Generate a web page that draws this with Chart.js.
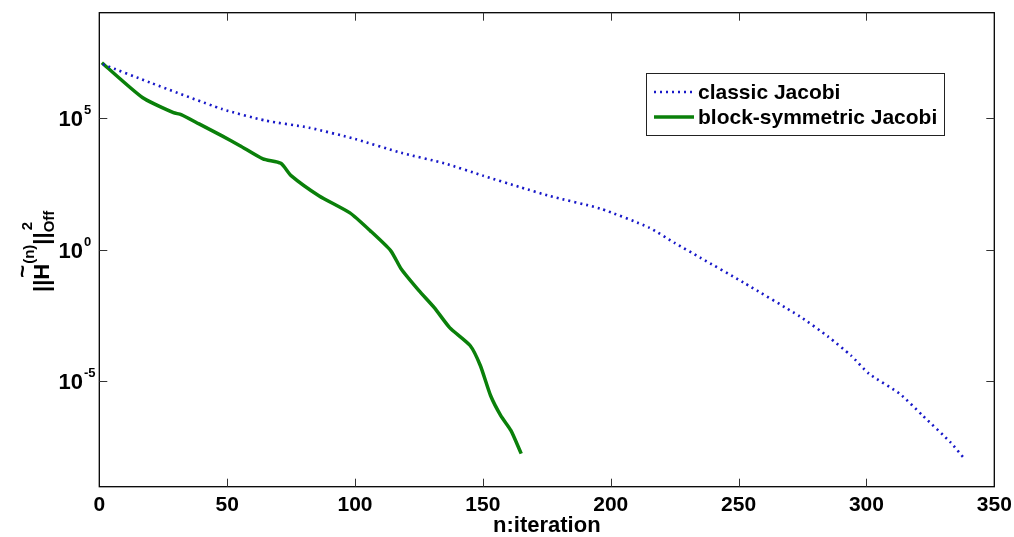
<!DOCTYPE html>
<html>
<head>
<meta charset="utf-8">
<script src="https://cdn.jsdelivr.net/npm/chart.js@4.4.1/dist/chart.umd.min.js"></script>
<style>
html,body{margin:0;padding:0;background:#fff;}
#wrap{position:relative;width:1014px;height:537px;}
</style>
</head>
<body>
<div id="wrap"><canvas id="c" width="1014" height="537"></canvas></div>
<script>
// Data (iteration, value)
const classicN   = [1.4, 20, 48, 65, 82, 100, 118, 135, 150, 165, 176, 196, 215, 225, 235, 252, 274, 285, 294, 301, 313, 322, 333, 338];
const classicVal = [1.1e7, 2.2e6, 2.2e5, 8.0e4, 4.3e4, 1.6e4, 4.8e3, 1.9e3, 6.5e2, 2.3e2, 1.1e2, 3.6e1, 6.9e0, 1.8e0, 5.0e-1, 5.6e-2, 2.9e-3, 5.0e-4, 9.5e-5, 1.95e-5, 3.4e-6, 5.0e-7, 4.7e-8, 1.26e-8];
const blockN     = [1, 17, 29, 32, 39, 48, 55, 64, 71, 75, 86, 98, 106, 114, 118, 125, 131, 137, 145, 149, 153, 157, 161, 165];
const blockVal   = [1.26e7, 5.9e5, 1.6e5, 1.35e5, 6.0e4, 2.1e4, 8.9e3, 2.8e3, 1.9e3, 6.5e2, 1.1e2, 2.5e1, 5.2e0, 9.1e-1, 1.9e-1, 2.8e-2, 6.3e-3, 1.1e-3, 2.3e-4, 4.0e-5, 2.9e-6, 5.0e-7, 1.35e-7, 1.8e-8];
const xTicks = [0, 50, 100, 150, 200, 250, 300, 350];
const yTicks = [1e-5, 1e0, 1e5];
const yTickExp = ['-5', '0', '5'];
const seriesNames = ['classic Jacobi', 'block-symmetric Jacobi'];

const toPts = (xs, ys) => xs.map((x, i) => ({x: x, y: ys[i]}));
const BLUE = '#1818c8', GREEN = '#0a800a';
const FONT = '"Liberation Sans", Arial, sans-serif';

const framePlugin = {
  id: 'frame',
  afterDatasetsDraw(chart) {
    const {ctx, chartArea: a, scales: {x, y}} = chart;
    ctx.save();
    ctx.strokeStyle = '#000';
    ctx.lineWidth = 1.3;
    ctx.strokeRect(a.left, a.top, a.right - a.left, a.bottom - a.top);
    ctx.lineWidth = 1;
    ctx.strokeStyle = '#333';
    const tl = 8;
    ctx.beginPath();
    xTicks.forEach(v => {
      const px = Math.round(x.getPixelForValue(v)) + 0.5;
      if (v !== 0 && v !== 350) {
        ctx.moveTo(px, a.bottom); ctx.lineTo(px, a.bottom - tl);
        ctx.moveTo(px, a.top); ctx.lineTo(px, a.top + tl);
      }
    });
    yTicks.forEach(v => {
      const py = Math.round(y.getPixelForValue(v)) + 0.5;
      ctx.moveTo(a.left, py); ctx.lineTo(a.left + tl, py);
      ctx.moveTo(a.right, py); ctx.lineTo(a.right - tl, py);
    });
    ctx.stroke();

    // y tick labels: 10 with raised exponent, placed by the y scale
    ctx.fillStyle = '#000';
    ctx.textBaseline = 'alphabetic';
    yTicks.forEach((v, i) => {
      const py = y.getPixelForValue(v);
      ctx.font = 'bold 22px ' + FONT;
      ctx.textAlign = 'right';
      ctx.fillText('10', 83, py + 8);
      ctx.font = 'bold 13px ' + FONT;
      ctx.textAlign = 'left';
      ctx.fillText(yTickExp[i], 84, py - 4);
    });

    // legend
    const lx = 646, ly = 73, lw = 298, lh = 62;
    ctx.fillStyle = '#fff';
    ctx.fillRect(lx, ly, lw, lh);
    ctx.strokeStyle = '#222';
    ctx.lineWidth = 1;
    ctx.strokeRect(lx + 0.5, ly + 0.5, lw, lh);
    const rows = [92, 117];
    chart.data.datasets.forEach((ds, i) => {
      ctx.save();
      ctx.strokeStyle = ds.borderColor;
      ctx.lineWidth = ds.borderWidth;
      ctx.setLineDash(ds.borderDash || []);
      ctx.beginPath();
      ctx.moveTo(654, rows[i]); ctx.lineTo(694, rows[i]);
      ctx.stroke();
      ctx.restore();
      ctx.fillStyle = '#000';
      ctx.font = 'bold 21px ' + FONT;
      ctx.textBaseline = 'middle';
      ctx.textAlign = 'left';
      ctx.fillText(ds.label, 698, rows[i] + 1);
    });

    // y-axis title: ||H~^(n)||^2_Off, rotated
    ctx.save();
    ctx.translate(40, 292);
    ctx.rotate(-Math.PI / 2);
    ctx.fillStyle = '#000';
    ctx.textBaseline = 'alphabetic';
    ctx.textAlign = 'left';
    let cx = 0;
    ctx.font = 'bold 22px ' + FONT;
    ctx.fillText('||', cx, 9); cx += ctx.measureText('||').width;
    const hw = ctx.measureText('H').width;
    ctx.fillText('H', cx, 9);
    ctx.fillText('~', cx + 2, -10);
    cx += hw;
    ctx.font = 'bold 15px ' + FONT;
    ctx.fillText('(n)', cx, -6); cx += ctx.measureText('(n)').width;
    ctx.font = 'bold 22px ' + FONT;
    ctx.fillText('||', cx, 9); cx += ctx.measureText('||').width;
    ctx.font = 'bold 15px ' + FONT;
    ctx.fillText('2', cx + 2, -8);
    ctx.fillText('Off', cx, 14);
    ctx.restore();
    ctx.restore();
  }
};

new Chart(document.getElementById('c'), {
  type: 'line',
  data: {
    datasets: [
      {label: seriesNames[0], data: toPts(classicN, classicVal), borderColor: BLUE, borderWidth: 2.6, borderDash: [2, 4], pointRadius: 0, fill: false, tension: 0.2},
      {label: seriesNames[1], data: toPts(blockN, blockVal), borderColor: GREEN, borderWidth: 3.5, pointRadius: 0, fill: false, tension: 0.2}
    ]
  },
  plugins: [framePlugin],
  options: {
    responsive: false,
    animation: false,
    layout: {padding: {left: 0, right: 19.7, top: 12.7, bottom: 0}},
    plugins: {legend: {display: false}, tooltip: {enabled: false}},
    scales: {
      x: {
        type: 'linear', min: 0, max: 350,
        afterBuildTicks: s => { s.ticks = xTicks.map(v => ({value: v})); },
        afterFit: s => { s.height = 50.3; s.paddingLeft = 0; s.paddingRight = 0; },
        grid: {display: false, drawTicks: false},
        border: {display: false},
        ticks: {color: '#000', padding: 6, font: {family: FONT, size: 21, weight: 'bold'}, maxRotation: 0},
        title: {display: true, text: 'n:iteration', color: '#000', padding: {top: 0, bottom: -2}, font: {family: FONT, size: 22, weight: 'bold'}}
      },
      y: {
        type: 'logarithmic', min: 1e-9, max: 1e9,
        afterBuildTicks: s => { s.ticks = yTicks.map(v => ({value: v})); },
        afterFit: s => { s.width = 99.3; s.paddingTop = 0; s.paddingBottom = 0; },
        grid: {display: false, drawTicks: false},
        border: {display: false},
        ticks: {display: false}
      }
    }
  }
});
</script>
</body>
</html>
